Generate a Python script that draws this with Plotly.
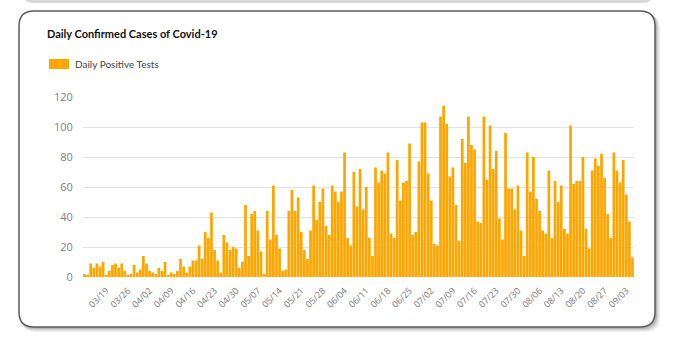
import plotly.graph_objects as go
import pandas as pd

start_date = "2020-03-12"
cases = [
    2, 1, 9, 6, 9, 7, 10, 1, 4, 8, 9, 6, 9, 4, 1, 2, 8, 3, 5, 14, 9, 4, 3, 2, 6, 4, 10, 1, 3, 2, 4, 12, 7,
    3, 7, 11, 11, 21, 12, 30, 26, 43, 18, 11, 3, 28, 23, 18, 20, 19, 6, 10, 48, 14, 42, 44, 31, 17, 2,
    44, 25, 61, 28, 19, 4, 5, 44, 58, 44, 53, 30, 18, 12, 31, 61, 38, 50, 59,
    34, 28, 61, 57, 50, 57, 83, 26, 21, 70, 47, 72, 45, 60, 26, 14, 73, 63, 71, 69, 83, 29, 26, 78, 51,
    63, 64, 89, 28, 30, 77, 103, 103, 69, 51, 22, 21, 107, 114,
    102, 67, 73, 48, 24, 92, 76, 107, 88, 85, 37, 36, 107, 65, 101, 72, 84, 39, 25, 96, 59, 59, 45, 61,
    31, 14, 83, 57, 80, 52, 44, 31, 29, 71, 26, 64, 50, 61, 32, 29,
    101, 62, 64, 64, 80, 32, 19, 71, 79, 74, 82, 66, 42, 26, 83, 71, 63, 78, 55, 37, 13,
]
dates = pd.date_range(start_date, periods=len(cases), freq="D")
x_tick_labels = ["03/19", "03/26", "04/02", "04/09", "04/16", "04/23", "04/30", "05/07",
                 "05/14", "05/21", "05/28", "06/04", "06/11", "06/18", "06/25", "07/02",
                 "07/09", "07/16", "07/23", "07/30", "08/06", "08/13", "08/20", "08/27", "09/03"]
x_tick_vals = [pd.Timestamp("2020/" + s) for s in x_tick_labels]
title_text = "Daily Confirmed Cases of Covid-19"
series_name = "Daily Positive Tests"
y_ticks = [0, 20, 40, 60, 80, 100, 120]

W, H = 675, 346
L, R, T, B = 83, 634, 97, 277  # plot area in pixels

def px(x):
    return (x - L) / (R - L)

def py(y):
    return (B - y) / (B - T)

def rrect(x0, y0, x1, y1, r):
    X0, X1 = px(x0), px(x1)
    Y0, Y1 = py(y0), py(y1)
    rx = r / (R - L)
    ry = r / (B - T)
    return (f"M{X0+rx},{Y0} L{X1-rx},{Y0} Q{X1},{Y0} {X1},{Y0-ry} "
            f"L{X1},{Y1+ry} Q{X1},{Y1} {X1-rx},{Y1} L{X0+rx},{Y1} "
            f"Q{X0},{Y1} {X0},{Y1+ry} L{X0},{Y0-ry} Q{X0},{Y0} {X0+rx},{Y0} Z")

fig = go.Figure()
fig.add_trace(go.Bar(
    x=dates, y=cases, name=series_name,
    marker=dict(color="#FFA500", line=dict(width=0)),
    showlegend=False,
))

shapes = []
# shadow of the card above
shapes.append(dict(type="path", xref="paper", yref="paper", layer="below",
                   path=rrect(22, -20, 654, 3, 12),
                   fillcolor="#d6d6d6", line=dict(width=0)))
# card shadow
for off, col in [(5, "#eeeeee"), (4, "#e2e2e2"), (3, "#cfcfcf"), (2, "#b8b8b8")]:
    shapes.append(dict(type="path", xref="paper", yref="paper", layer="below",
                       path=rrect(19 + off * 0.4, 11 + off * 0.6, 655 + off, 327 + off, 15),
                       fillcolor=col, line=dict(width=0)))
# card
shapes.append(dict(type="path", xref="paper", yref="paper", layer="below",
                   path=rrect(19, 11, 655, 327, 15),
                   fillcolor="white", line=dict(color="#5a5a5a", width=1.5)))
# legend swatch
shapes.append(dict(type="rect", xref="paper", yref="paper",
                   x0=px(49), x1=px(69), y0=py(59), y1=py(69),
                   fillcolor="#FFA500", line=dict(width=0)))

annotations = [
    dict(text=f"<b>{title_text}</b>", xref="paper", yref="paper",
         x=px(45), y=py(34), xanchor="left", yanchor="middle", showarrow=False,
         font=dict(family="Lato, Noto Sans", size=11, color="#111111")),
    dict(text=series_name, xref="paper", yref="paper",
         x=px(73), y=py(64), xanchor="left", yanchor="middle", showarrow=False,
         font=dict(family="Lato, Noto Sans", size=10, color="#444444")),
]

fig.update_layout(
    width=W, height=H,
    margin=dict(l=L, r=W - R, t=T, b=H - B),
    paper_bgcolor="white", plot_bgcolor="rgba(0,0,0,0)",
    bargap=0.12,
    shapes=shapes, annotations=annotations,
    xaxis=dict(
        type="date",
        range=[dates[0] - pd.Timedelta(hours=12), dates[-1] + pd.Timedelta(hours=12)],
        tickvals=x_tick_vals, ticktext=x_tick_labels,
        tickangle=-45, showgrid=False, zeroline=False, showline=False,
        ticks="outside", ticklen=4, tickcolor="rgba(0,0,0,0)",
        tickfont=dict(family="Open Sans", size=9, color="#777777"),
    ),
    yaxis=dict(
        range=[0, 120], tickvals=y_ticks, showgrid=True, gridcolor="#e3e3e3", gridwidth=1,
        zeroline=False, showline=False,
        ticks="outside", ticklen=7, tickcolor="rgba(0,0,0,0)",
        tickfont=dict(family="Open Sans", size=11, color="#808080"),
    ),
)

fig.write_html("out.html")
